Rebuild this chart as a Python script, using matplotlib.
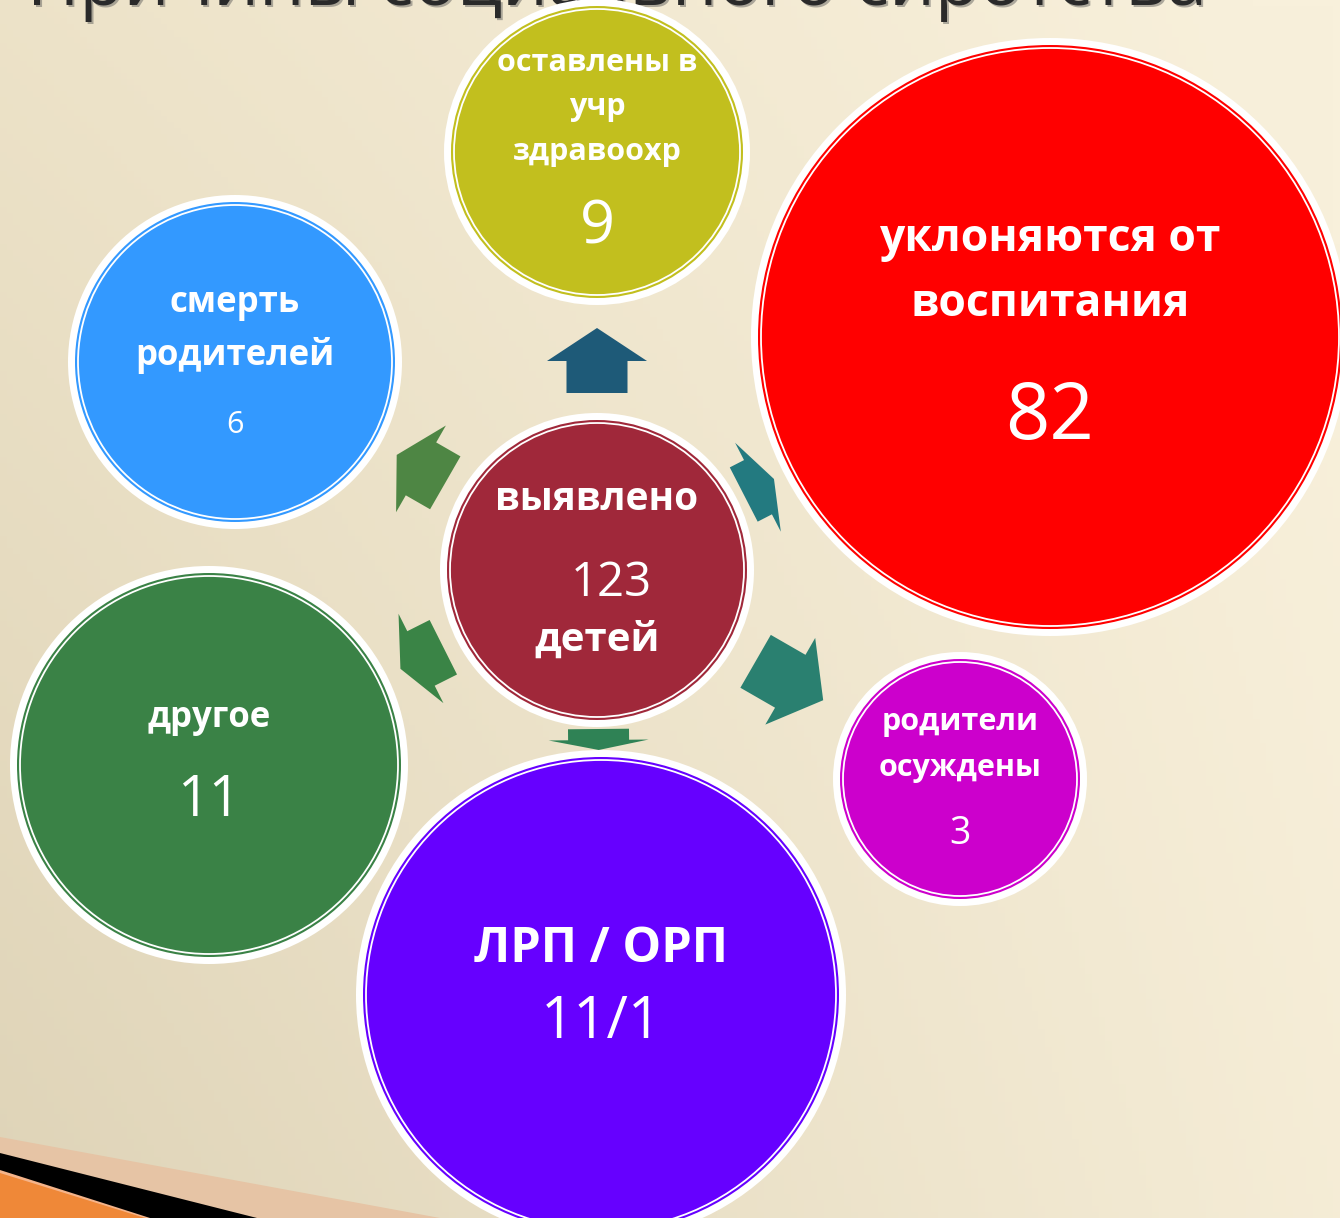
import numpy as np
import matplotlib
matplotlib.use("Agg")
import matplotlib.pyplot as plt
from matplotlib.patches import Circle, Polygon

plt.rcParams['font.family'] = ['Open Sans', 'DejaVu Sans']

# ---- data ----
title = "Причины социального сиротства"
center_label = ["выявлено", "123", "детей"]
cause_labels = [["оставлены в", "учр", "здравоохр"],
                ["уклоняются от", "воспитания"],
                ["родители", "осуждены"],
                ["ЛРП / ОРП"],
                ["другое"],
                ["смерть", "родителей"]]
cause_values = ["9", "82", "3", "11/1", "11", "6"]

# ---- layout (pixel coords, y down) ----
W, H = 1340, 1218
center_xy = (597, 570)
center_r = 147
center_color = "#A0283A"
circle_xy = [(597, 152), (1050, 337), (960, 779), (601, 995), (209, 765), (235, 362)]
circle_r = [143, 289, 117, 235, 189, 157]
circle_colors = ["#C2BF1E", "#FF0000", "#CC00CC", "#6600FF", "#3A8246", "#3399FF"]
label_y = [[63, 107, 152], [240, 305], [722, 768], [950], [718], [303, 355]]
label_size = [22, 32, 22, 35, 25, 25]
value_y = [228, 418, 834, 1023, 801, 425]
value_size = [44, 56, 27, 42, 40, 22]

arrow_colors = ["#1E5A78", "#237A80", "#2A8070", "#2F8255", "#3A8446", "#4E8644"]
arrow_start = [177, 165, 183, 159, 172, 175]
arrow_len = [65, 34, 78, 21, 48, 56]
arrow_head = [33, 18, 38, 10, 23, 28]

fig = plt.figure(figsize=(13.4, 12.18), dpi=100)
ax = fig.add_axes([0, 0, 1, 1])
ax.set_xlim(0, W)
ax.set_ylim(H, 0)
ax.axis('off')

# background gradient
xx, yy = np.meshgrid(np.linspace(0, 1, 200), np.linspace(0, 1, 200))
left = np.array([233, 222, 194]) / 255
right = np.array([248, 240, 219]) / 255
t = np.clip(xx * 0.8 + (1 - yy) * 0.25, 0, 1)[..., None]
bg = left * (1 - t) + right * t
bg = bg - (yy[..., None] * 0.04) * (1 - xx[..., None])
ax.imshow(np.clip(bg, 0, 1), extent=(0, W, H, 0), aspect='auto', zorder=0)

# decorative stripes bottom-left
ax.add_patch(Polygon([(0, 1137), (440, 1218), (0, 1218)], closed=True, color="#E6C4A5", lw=0, zorder=1))
ax.add_patch(Polygon([(0, 1153), (257, 1218), (0, 1218)], closed=True, color="black", lw=0, zorder=1))
ax.add_patch(Polygon([(0, 1170), (150, 1218), (0, 1218)], closed=True, color="#F5B48A", lw=0, zorder=1))
ax.add_patch(Polygon([(0, 1173), (145, 1218), (0, 1218)], closed=True, color="#EF8838", lw=0, zorder=1))

# title (mostly cut off at the top edge)
ax.text(1209, 7, title, ha='right', va='baseline', fontsize=52,
        color="#555555", alpha=0.45, zorder=2)
ax.text(1207, 5, title, ha='right', va='baseline', fontsize=52,
        color="#2A2A2A", zorder=3)


def bubble(xy, r, color):
    ax.add_patch(Circle(xy, r + 10, color="white", lw=0, zorder=4))
    ax.add_patch(Circle(xy, r + 3, color=color, lw=0, zorder=4))
    ax.add_patch(Circle(xy, r, facecolor=color, edgecolor="white", lw=1.3, zorder=4))


def block_arrow(ang, start, length, head, color, hw=50, sw=30.5):
    d = np.array([np.cos(ang), np.sin(ang)])
    p = np.array([-np.sin(ang), np.cos(ang)])
    c = np.array(center_xy)
    loc = [(0, -sw), (length - head, -sw), (length - head, -hw), (length, 0),
           (length - head, hw), (length - head, sw), (0, sw)]
    pts = [c + (start + a) * d + b * p for a, b in loc]
    ax.add_patch(Polygon(pts, closed=True, color=color, lw=0, zorder=3))


# arrows from the center toward each cause
for i, (cx, cy) in enumerate(circle_xy):
    ang = np.arctan2(cy - center_xy[1], cx - center_xy[0])
    block_arrow(ang, arrow_start[i], arrow_len[i], arrow_head[i], arrow_colors[i])

# cause bubbles
for i, (cx, cy) in enumerate(circle_xy):
    bubble((cx, cy), circle_r[i], circle_colors[i])
    for line, y in zip(cause_labels[i], label_y[i]):
        ax.text(cx, y, line, ha='center', va='center', color='white',
                fontsize=label_size[i], fontweight='bold', zorder=6)
    ax.text(cx, value_y[i], cause_values[i], ha='center', va='center', color='white',
            fontsize=value_size[i], zorder=6)

# center bubble
bubble(center_xy, center_r, center_color)
ax.text(597, 499, center_label[0], ha='center', va='center', color='white',
        fontsize=28, fontweight='bold', zorder=6)
ax.text(611, 583, center_label[1], ha='center', va='center', color='white',
        fontsize=34, zorder=6)
ax.text(597, 640, center_label[2], ha='center', va='center', color='white',
        fontsize=29, fontweight='bold', zorder=6)

fig.savefig("out.png", dpi=100)
